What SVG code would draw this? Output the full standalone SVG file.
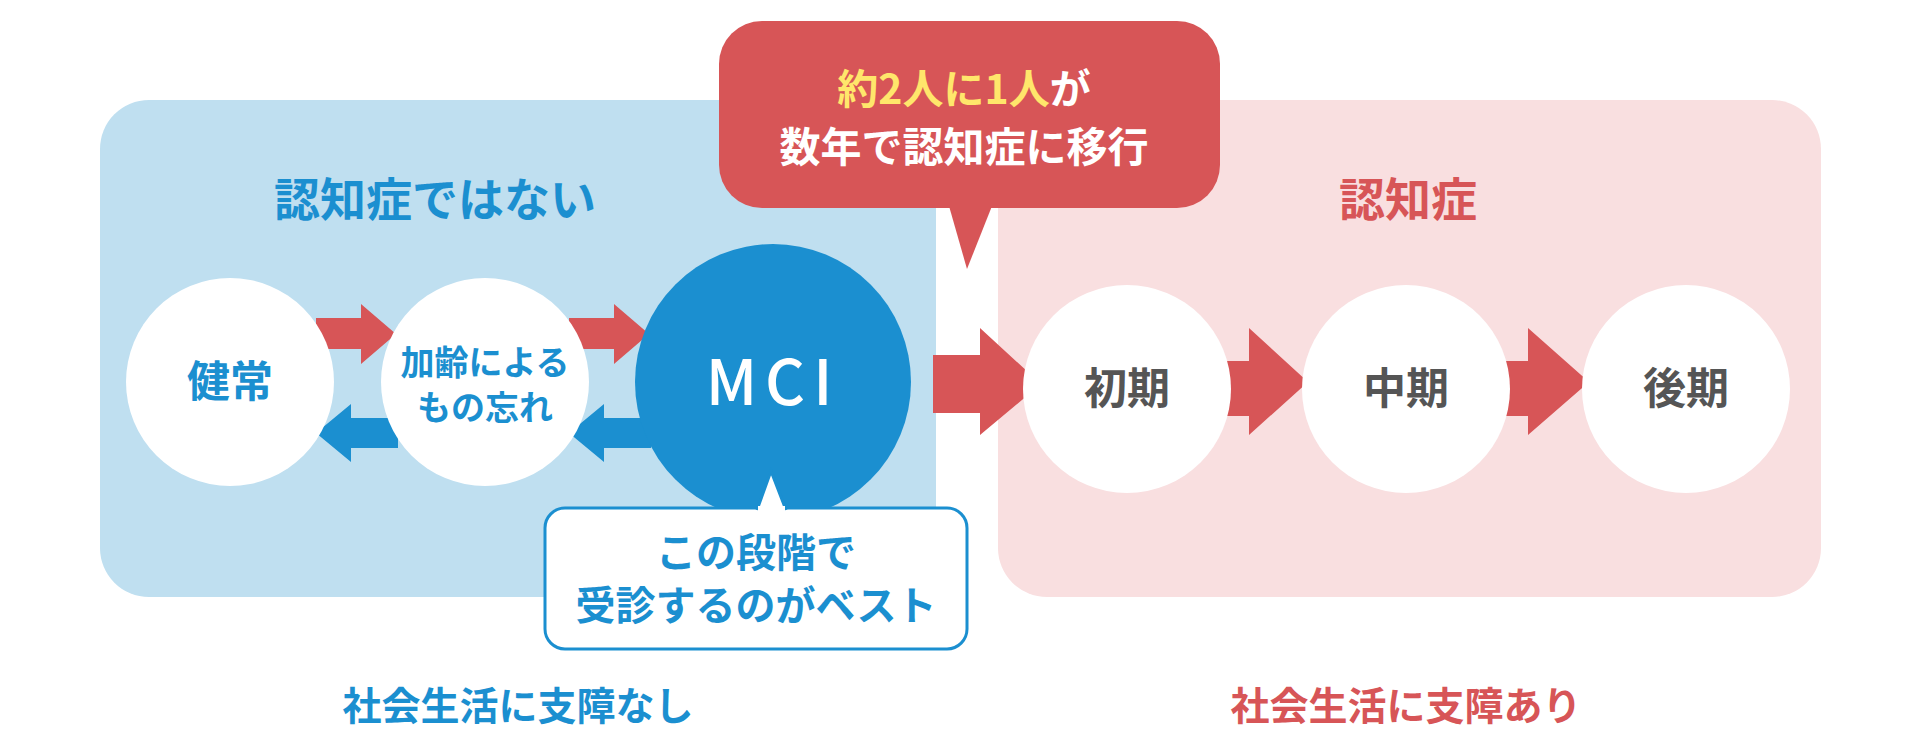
<svg xmlns="http://www.w3.org/2000/svg" width="1920" height="744" viewBox="0 0 1920 744">
<style>
text{font-family:"Noto Sans CJK JP","Noto Sans",sans-serif;font-weight:bold;text-anchor:middle}
.b{fill:#1b8fd0}.r{fill:#d75557}.g{fill:#555}.w{fill:#fff}
</style>
<rect width="1920" height="744" fill="#fff"/>
<g id="panel-left"><rect x="100" y="100" width="836" height="497" rx="49" fill="#bfdff0"/>
<text x="435" y="216" font-size="46" class="b">認知症ではない</text></g>
<g id="panel-right"><rect x="998" y="100" width="823" height="497" rx="49" fill="#f9dfe0"/>
<text x="1408" y="216" font-size="46" class="r">認知症</text></g>
<g id="connectors">
<path class="r" d="M316,318 H361 V304 L396,334 L361,364 V349 H316Z"/>
<path class="r" d="M569,318 H614 V304 L649,334 L614,364 V349 H569Z"/>
<path class="b" d="M398,418 H351 V404 L316,433 L351,462 V448 H398Z"/>
<path class="b" d="M651,418 H604 V404 L569,433 L604,462 V448 H651Z"/>
<path class="r" d="M933,355 H980 V328 L1041,384 L980,435 V413 H933Z"/>
<path class="r" d="M1225,361 H1249 V328 L1308,382 L1249,435 V416 H1225Z"/>
<path class="r" d="M1505,361 H1528 V328 L1589,382 L1528,435 V416 H1505Z"/>
</g>
<g id="n-kenjo"><circle cx="230" cy="382" r="104" fill="#fff"/><text x="230" y="397" font-size="43" class="b">健常</text></g>
<g id="n-kareki"><circle cx="485" cy="382" r="104" fill="#fff"/><text x="485" y="375" font-size="34" class="b">加齢による</text><text x="485" y="420" font-size="34" class="b">もの忘れ</text></g>
<g id="n-mci"><circle cx="773" cy="382" r="138" fill="#1b8fd0"/><text x="773" y="405" font-size="62" class="w" font-family="Noto Sans,sans-serif" letter-spacing="8" style="font-weight:500">MCI</text></g>
<g id="n-shoki"><circle cx="1127" cy="389" r="104" fill="#fff"/><text x="1127" y="404" font-size="43" class="g">初期</text></g>
<g id="n-chuki"><circle cx="1406" cy="389" r="104" fill="#fff"/><text x="1406" y="404" font-size="43" class="g">中期</text></g>
<g id="n-koki"><circle cx="1686" cy="389" r="104" fill="#fff"/><text x="1686" y="404" font-size="43" class="g">後期</text></g>
<g id="callout-red"><rect x="719" y="21" width="501" height="187" rx="43" fill="#d75557"/><path d="M949,206 L992,206 L967,269Z" fill="#d75557"/>
<text x="964" y="104" font-size="41"><tspan fill="#ffe66b">約2人に1人</tspan><tspan fill="#fff">が</tspan></text>
<text x="964" y="162" font-size="41" class="w">数年で認知症に移行</text></g>
<g id="callout-white"><rect x="545" y="508" width="422" height="141" rx="20" fill="#fff" stroke="#1b8fd0" stroke-width="3"/>
<path d="M757,510 L771,471 L786,510" fill="#fff" stroke="#1b8fd0" stroke-width="3"/><rect x="758" y="506" width="27" height="6" fill="#fff"/>
<text x="756" y="567" font-size="40" class="b">この段階で</text><text x="756" y="620" font-size="40" class="b">受診するのがベスト</text></g>
<text x="518" y="720" font-size="39" class="b">社会生活に支障なし</text>
<text x="1406" y="720" font-size="39" class="r">社会生活に支障あり</text>
</svg>
